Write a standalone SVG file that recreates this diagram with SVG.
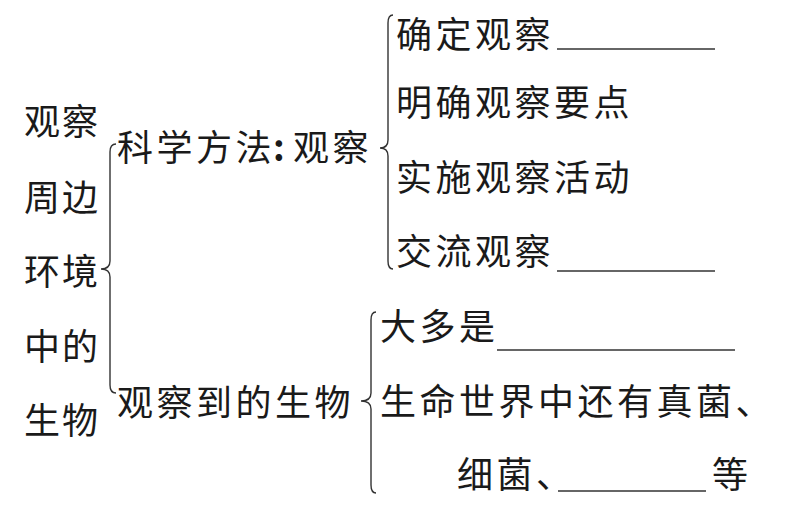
<svg xmlns="http://www.w3.org/2000/svg" width="792" height="513" viewBox="0 0 792 513">
<style>
text{font-family:"Noto Sans CJK SC","Noto Sans CJK JP",sans-serif;font-size:36px;letter-spacing:3.5px;fill:#1a1a1a;font-weight:400}
.col{letter-spacing:2px}
.br{fill:none;stroke:#333;stroke-width:1.4}
.ul{stroke:#333;stroke-width:1.6}
</style>
<rect width="792" height="513" fill="#fff"/>
<g id="root">
<text class="col" x="24" y="135">观察</text>
<text class="col" x="24" y="211">周边</text>
<text class="col" x="24" y="285">环境</text>
<text class="col" x="24" y="360">中的</text>
<text class="col" x="24" y="434">生物</text>
</g>
<g id="connectors">
<path class="br" d="M116,144 Q110,144 110,152 L110,261 Q110,269 101,269 Q110,269 110,277 L110,385 Q110,393 116,393"/>
<path class="br" d="M393,15 Q388,15 388,23 L388,140 Q388,148 380,148 Q388,148 388,156 L388,261 Q388,269 393,269"/>
<path class="br" d="M376,312 Q371,312 371,320 L371,393 Q371,401 361,401 Q371,401 371,409 L371,485 Q371,493 376,493"/>
</g>
<g id="method">
<text x="117" y="161">科学方<tspan letter-spacing="0">法</tspan><tspan x="273" font-weight="700" letter-spacing="0">:</tspan><tspan x="293">观察</tspan></text>
</g>
<g id="step1"><text x="396" y="48">确定观察</text><line class="ul" x1="557" y1="49" x2="715" y2="49"/></g>
<g id="step2"><text x="396" y="116">明确观察要点</text></g>
<g id="step3"><text x="396" y="191">实施观察活动</text></g>
<g id="step4"><text x="396" y="265">交流观察</text><line class="ul" x1="557" y1="271" x2="715" y2="271"/></g>
<g id="observed">
<text x="117" y="416">观察到的生物</text>
</g>
<g id="item1"><text x="380" y="340">大多是</text><line class="ul" x1="497" y1="350" x2="735" y2="350"/></g>
<g id="item2"><text x="380" y="415">生命世界中还有真菌、</text>
<text x="457" y="488">细菌、</text><line class="ul" x1="558" y1="491" x2="706" y2="491"/><text x="712" y="488">等</text></g>
</svg>
